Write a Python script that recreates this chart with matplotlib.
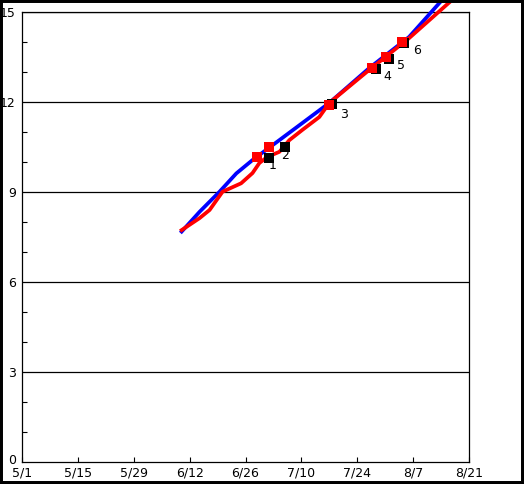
import matplotlib
matplotlib.use("Agg")
import matplotlib.pyplot as plt
import matplotlib.transforms as mtransforms
from matplotlib.patches import Rectangle

# x values are days after 5/1
tick_days = [0, 14, 28, 42, 56, 70, 84, 98, 112]
tick_labels = ["5/1", "5/15", "5/29", "6/12", "6/26", "7/10", "7/24", "8/7", "8/21"]
y_major = [0, 3, 6, 9, 12, 15]
y_minor = [1, 2, 4, 5, 7, 8, 10, 11, 13, 14]

blue_x = [40.0, 44.5, 49.5, 53.7, 57.8, 64.5, 70.25, 77.0, 87.0, 97.0, 105.25]
blue_y = [7.68, 8.34, 9.01, 9.62, 10.07, 10.73, 11.30, 11.97, 13.13, 14.17, 15.4]

red_x = [40.0, 44.5, 47.0, 50.25, 54.9, 57.75, 59.5, 61.5, 64.5, 67.0, 70.25, 74.5, 77.0, 87.0, 97.0, 107.75]
red_y = [7.73, 8.13, 8.40, 9.01, 9.29, 9.63, 9.97, 10.17, 10.34, 10.73, 11.07, 11.50, 11.97, 13.07, 14.13, 15.4]

red_pts_x = [58.9, 62.0, 76.9, 87.75, 91.1, 95.1]
red_pts_y = [10.18, 10.51, 11.90, 13.15, 13.51, 14.01]
black_pts_x = [62.0, 65.9, 77.75, 88.75, 91.9, 95.75]
black_pts_y = [10.13, 10.51, 11.92, 13.10, 13.43, 13.97]
point_labels = ["1", "2", "3", "4", "5", "6"]

W, H = 524, 484
fig = plt.figure(figsize=(W / 100, H / 100), dpi=100)
ax = fig.add_axes([22 / W, 22 / H, (469 - 22) / W, (462 - 12) / H])

ax.set_xlim(0, 112)
ax.set_ylim(0, 15)

for g in y_major[1:]:
    ax.axhline(g, color="black", lw=0.9, zorder=1)

ax.plot(blue_x, blue_y, color="#0000ff", lw=2.7, clip_on=False, zorder=3)
ax.plot(red_x, red_y, color="#ff0000", lw=2.7, clip_on=False, zorder=3)

ax.plot(black_pts_x, black_pts_y, ls="none", marker="s", ms=7.2, mew=0,
        color="black", zorder=4, clip_on=False)
ax.plot(red_pts_x, red_pts_y, ls="none", marker="s", ms=7.2, mew=0,
        color="#ff0000", zorder=5, clip_on=False)

for x, y, t in zip(red_pts_x, red_pts_y, point_labels):
    ax.annotate(t, (x, y), xytext=(15.5, -9), textcoords="offset pixels",
                ha="center", va="center", fontsize=9, color="black", zorder=6)

ax.set_xticks(tick_days)
ax.set_xticklabels(tick_labels)
ax.set_yticks(y_major)
ax.set_yticklabels([str(v) for v in y_major])
ax.set_yticks(y_minor, minor=True)

ax.tick_params(axis="x", which="major", direction="in", length=3.6, width=0.8,
               pad=3.2, labelsize=9, colors="black")
ax.tick_params(axis="y", which="major", length=0, pad=4.5, labelsize=9)
ax.tick_params(axis="y", which="minor", direction="in", length=3.6, width=0.8)
ax.tick_params(axis="x", which="minor", length=0)

# nudge the "0" label up slightly so it does not collide with "5/1"
zero_lbl = ax.get_yticklabels()[0]
zero_lbl.set_transform(zero_lbl.get_transform() +
                       mtransforms.ScaledTranslation(0, 2.5 / 100, fig.dpi_scale_trans))

for s in ax.spines.values():
    s.set_linewidth(0.9)
    s.set_color("black")

fig.patches.append(Rectangle((0, 0), 1, 1, transform=fig.transFigure,
                             fill=False, edgecolor="black", lw=4.3, zorder=10))

fig.savefig("out.png", dpi=100)
